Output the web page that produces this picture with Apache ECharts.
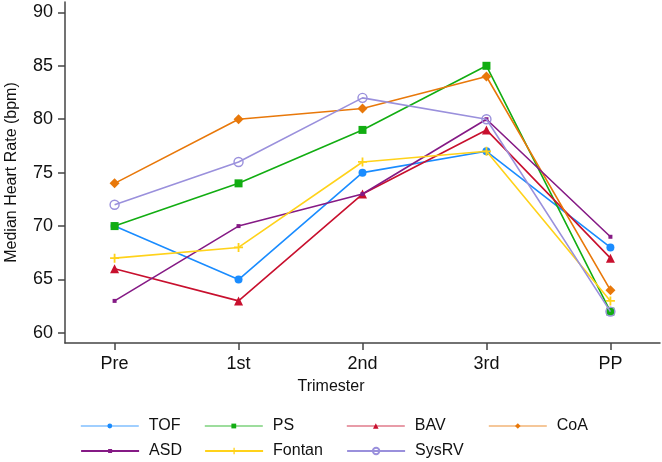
<!DOCTYPE html>
<html>
<head>
<meta charset="utf-8">
<script src="https://cdn.jsdelivr.net/npm/echarts@6/dist/echarts.min.js"></script>
<style>
html,body{margin:0;padding:0;background:#fff;}
#chart{width:662px;height:462px;}
</style>
</head>
<body>
<div id="chart"></div>
<script>
var categories = ['Pre', '1st', '2nd', '3rd', 'PP'];
var yTicks = [60, 65, 70, 75, 80, 85, 90];
var seriesNames = ['TOF', 'PS', 'BAV', 'CoA', 'ASD', 'Fontan', 'SysRV'];
var TOF = [70, 65, 75, 77, 68];
var PS = [70, 74, 79, 85, 62];
var BAV = [66, 63, 73, 79, 67];
var CoA = [74, 80, 81, 84, 64];
var ASD = [63, 70, 73, 80, 69];
var Fontan = [67, 68, 76, 77, 63];
var SysRV = [72, 76, 82, 80, 62];
var values = [TOF, PS, BAV, CoA, ASD, Fontan, SysRV];

var colors = ['#1a8cff', '#12ad12', '#c8102e', '#e8780a', '#851a85', '#ffd21a', '#9a90dc'];
var plusPath = 'path://M4,0h2v4h4v2h-4v4h-2v-4h-4v-2h4z';
var symbols = ['circle', 'rect', 'triangle', 'diamond', 'rect', plusPath, 'circle'];
var sizes = [8, 8, 9, 10, 4, 9, 9];
var legendSizes = [6, 6, 7, 7, 5, 8, 8];

var series = seriesNames.map(function (name, i) {
  var hollow = (name === 'SysRV');
  return {
    name: name,
    type: 'line',
    data: values[i].map(function (v, j) { return [j, v]; }),
    symbol: symbols[i],
    symbolSize: sizes[i],
    showAllSymbol: true,
    lineStyle: { color: colors[i], width: 1.6 },
    itemStyle: hollow ? { color: 'rgba(255,255,255,0)', borderColor: colors[i], borderWidth: 1.4 }
                      : { color: colors[i] },
    emphasis: { disabled: true },
    z: 2 + i
  };
});

var legendPos = [
  [80, 418], [204, 418], [346, 418], [488, 418],
  [80, 443], [204, 443], [346, 443]
];
var legends = seriesNames.map(function (name, i) {
  return {
    data: [{ name: name, lineStyle: { opacity: i < 4 ? 0.55 : 1, width: i < 4 ? 1.6 : 2.2 } }],
    left: legendPos[i][0],
    top: legendPos[i][1],
    itemWidth: 58,
    itemHeight: legendSizes[i],
    padding: 0,
    selectedMode: false,
    textStyle: { fontFamily: 'Liberation Sans, Arial, sans-serif', fontSize: 16, color: '#111', padding: [0, 0, 0, 5] }
  };
});

var chart = echarts.init(document.getElementById('chart'), null, { renderer: 'canvas' });
chart.setOption({
  animation: false,
  backgroundColor: '#fff',
  grid: { left: 65, right: 2, top: 2, bottom: 119, containLabel: false, outerBoundsMode: 'none' },
  title: {
    text: 'Trimester',
    left: 'center',
    top: 379,
    padding: 0,
    textStyle: { fontFamily: 'Liberation Sans, Arial, sans-serif', fontSize: 16, fontWeight: 'normal', color: '#111' }
  },
  legend: legends,
  xAxis: {
    type: 'value',
    min: -0.4,
    max: 4.4,
    splitLine: { show: false },
    axisLine: { show: true, onZero: false, lineStyle: { color: '#444', width: 1.5 } },
    axisTick: { show: true, length: 7, customValues: [0, 1, 2, 3, 4], lineStyle: { color: '#444', width: 1.5 } },
    axisLabel: {
      customValues: [0, 1, 2, 3, 4],
      margin: 12,
      fontFamily: 'Liberation Sans, Arial, sans-serif', fontSize: 18, color: '#111',
      formatter: function (v) { return categories[Math.round(v)]; }
    }
  },
  yAxis: {
    type: 'value',
    min: 59.06,
    max: 90.97,
    name: 'Median Heart Rate (bpm)',
    nameLocation: 'middle',
    nameGap: 45,
    nameTextStyle: { fontFamily: 'Liberation Sans, Arial, sans-serif', fontSize: 16, color: '#111' },
    splitLine: { show: false },
    axisLine: { show: true, onZero: false, lineStyle: { color: '#444', width: 1.5 } },
    axisTick: { show: true, length: 7, customValues: yTicks, lineStyle: { color: '#444', width: 1.5 } },
    axisLabel: {
      customValues: yTicks,
      margin: 12,
      fontFamily: 'Liberation Sans, Arial, sans-serif', fontSize: 18, color: '#111'
    }
  },
  series: series
});
</script>
</body>
</html>
